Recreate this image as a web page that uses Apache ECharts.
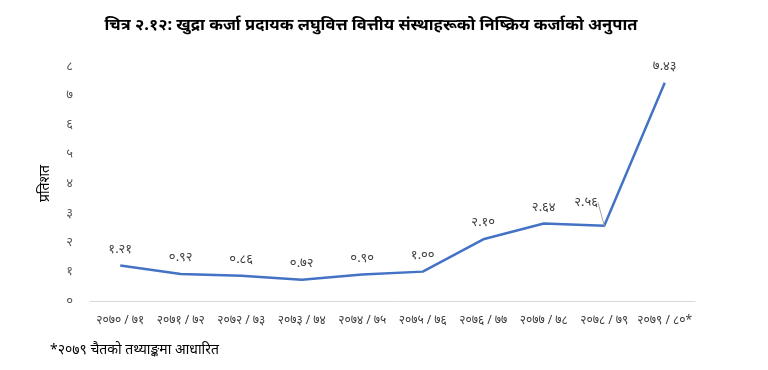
<!DOCTYPE html>
<html><head><meta charset="utf-8">
<script src="https://cdn.jsdelivr.net/npm/echarts@6/dist/echarts.min.js"></script>
<style>html,body{margin:0;padding:0;background:#fff}#c{width:768px;height:370px}</style>
</head><body><div id="c"></div>
<script>
const categories = ['२०७०/७१','२०७१/७२','२०७२/७३','२०७३/७४','२०७४/७५','२०७५/७६','२०७६/७७','२०७७/७८','२०७८/७९','२०७९/८०*'];
const values = [1.21, 0.92, 0.86, 0.72, 0.90, 1.00, 2.10, 2.64, 2.56, 7.43];
const yTicks = [0,1,2,3,4,5,6,7,8];
const titleText = 'चित्र २.१२: खुद्रा कर्जा प्रदायक लघुवित्त वित्तीय संस्थाहरूको निष्क्रिय कर्जाको अनुपात';
const yName = 'प्रतिशत';
const note = '*२०७९ चैतको तथ्याङ्कमा आधारित';

const dev = '०१२३४५६७८९';
function toDev(s){ return String(s).replace(/[0-9]/g, d => dev[+d]); }
const font = '"Noto Sans", "Noto Sans Devanagari", sans-serif';

const chart = echarts.init(document.getElementById('c'));
chart.setOption({
  animation: false,
  title: { text: titleText, left: 366, top: 12, textAlign: 'center',
    textStyle: { fontSize: 16.5, fontWeight: 'bold', color: '#000', fontFamily: font } },
  graphic: [{ type: 'text', left: 50, top: 343, style: { text: note, fontSize: 14, fill: '#000', fontFamily: font } }],
  grid: { left: 90, right: 73, top: 66, bottom: 69 },
  xAxis: { type: 'category', data: categories, boundaryGap: true,
    axisLine: { lineStyle: { color: '#d9d9d9', width: 1 } }, axisTick: { show: false },
    axisLabel: { color: '#404040', fontSize: 12, margin: 14, interval: 0, fontFamily: font,
      formatter: v => v.replace('/', ' / ') } },
  yAxis: { type: 'value', min: 0, max: 8, interval: 1,
    name: yName, nameLocation: 'middle', nameGap: 38, nameRotate: 90,
    nameTextStyle: { color: '#000', fontSize: 14, fontFamily: font },
    axisLine: { show: false }, axisTick: { show: false }, splitLine: { show: false },
    axisLabel: { color: '#595959', fontSize: 13, margin: 17, fontFamily: font,
      formatter: v => toDev(v) } },
  series: [{
    type: 'line', data: values.map((v, i) => i === 8 ? {
        value: v,
        label: { position: [-30, -30] },
        labelLine: { show: true, lineStyle: { color: '#a6a6a6', width: 1 } }
      } : v),
    symbol: 'circle', symbolSize: 0.1, showSymbol: true,
    itemStyle: { color: 'rgba(0,0,0,0)', borderWidth: 0 },
    lineStyle: { color: '#4472c4', width: 2.5 },
    label: { show: true, position: 'top', distance: 10, color: '#404040', fontSize: 13, fontFamily: font,
      formatter: p => toDev(p.value.toFixed(2)) },
    labelLine: { show: false },
    labelLayout: { hideOverlap: false }
  }]
});
</script></body></html>
